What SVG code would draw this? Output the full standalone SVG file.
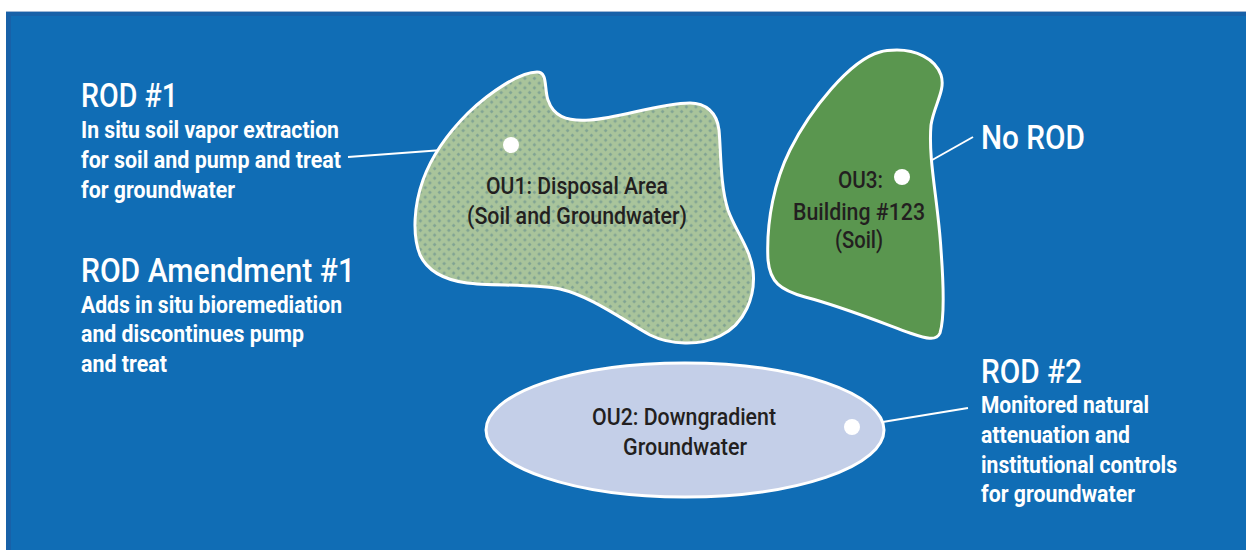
<svg xmlns="http://www.w3.org/2000/svg" width="1246" height="550" viewBox="0 0 1246 550">
<style>
.h{font-family:Roboto,'Liberation Sans',Arial,sans-serif;font-size:34px;fill:#ffffff;font-weight:500}
.b{font-family:Roboto,'Liberation Sans',Arial,sans-serif;font-size:23px;fill:#ffffff;font-weight:bold}
.n{font-family:Roboto,'Liberation Sans',Arial,sans-serif;font-size:23px;fill:#231f20;font-weight:500}
.shape{stroke:#ffffff;stroke-width:3;stroke-linejoin:round}
.lead{stroke:#ffffff;stroke-width:2;fill:none}
.dot{fill:#ffffff}
</style>
<defs>
<pattern id="dots" width="9.5" height="9.5" patternUnits="userSpaceOnUse">
<rect width="9.5" height="9.5" fill="#a9c49b"/>
<path d="M2.4,0.5 L4.3,2.4 L2.4,4.3 L0.5,2.4 Z M7.15,5.25 L9.05,7.15 L7.15,9.05 L5.25,7.15 Z" fill="#80a393"/>
</pattern>
</defs>
<rect x="0" y="0" width="1246" height="550" fill="#ffffff"/>
<rect x="6" y="11" width="1240" height="539" fill="#1861a8"/>
<rect x="11" y="16" width="1235" height="534" fill="#106db5"/>
<line x1="6" y1="11.5" x2="1246" y2="11.5" stroke="#9fb8d6" stroke-width="1"/>

<g id="connectors">
<line class="lead" x1="348" y1="157" x2="511" y2="145"/>
<line class="lead" x1="902" y1="177" x2="973" y2="137"/>
<line class="lead" x1="852" y1="427" x2="968" y2="408"/>
</g>

<g id="ou1">
<path class="shape" fill="url(#dots)" d="M537,72 C520,72 490,92 468,113 C450,131 432,155 423,180 C414,205 412,235 420,255 C428,272 445,280 467,283 C490,286 535,284 560,289 C590,296 620,318 650,335 C670,345 700,346 720,336 C745,324 756,296 753,270 C750,248 735,230 728,210 C720,185 721,150 719,130 C717,112 705,103 690,103 C660,103 620,118 590,120 C565,122 553,115 548,100 C544,88 548,72 537,72 Z"/>
<circle class="dot" cx="511" cy="145" r="8"/>
<text class="n" x="486" y="194" textLength="182" lengthAdjust="spacingAndGlyphs">OU1: Disposal Area</text>
<text class="n" x="467" y="224" textLength="220" lengthAdjust="spacingAndGlyphs">(Soil and Groundwater)</text>
</g>

<g id="ou3">
<path class="shape" fill="#5a964f" d="M897,50 C915,50 935,58 941,75 C946,90 934,105 931,125 C928,160 938,200 941,250 C944,290 944,320 940,333 C936,342 925,338 910,333 C880,322 840,306 805,297 C780,290 770,282 768,260 C766,220 775,180 790,150 C810,110 850,60 880,52 C886,50 892,50 897,50 Z"/>
<circle class="dot" cx="902" cy="177" r="8"/>
<text class="n" x="838" y="188" textLength="45" lengthAdjust="spacingAndGlyphs">OU3:</text>
<text class="n" x="793" y="220" textLength="132" lengthAdjust="spacingAndGlyphs">Building #123</text>
<text class="n" x="835" y="248" textLength="48" lengthAdjust="spacingAndGlyphs">(Soil)</text>
</g>

<g id="ou2">
<ellipse class="shape" fill="#c4cfe8" cx="685" cy="430" rx="199" ry="67"/>
<circle class="dot" cx="852" cy="427" r="8"/>
<text class="n" x="592" y="425" textLength="184" lengthAdjust="spacingAndGlyphs">OU2: Downgradient</text>
<text class="n" x="623" y="455" textLength="124" lengthAdjust="spacingAndGlyphs">Groundwater</text>
</g>

<g id="rod1">
<text class="h" x="81" y="107" textLength="97" lengthAdjust="spacingAndGlyphs">ROD #1</text>
<text class="b" x="81" y="138" textLength="258" lengthAdjust="spacingAndGlyphs">In situ soil vapor extraction</text>
<text class="b" x="81" y="168" textLength="260" lengthAdjust="spacingAndGlyphs">for soil and pump and treat</text>
<text class="b" x="81" y="198" textLength="154" lengthAdjust="spacingAndGlyphs">for groundwater</text>
</g>

<g id="rod-amendment1">
<text class="h" x="81" y="282" textLength="274" lengthAdjust="spacingAndGlyphs">ROD Amendment #1</text>
<text class="b" x="81" y="313" textLength="261" lengthAdjust="spacingAndGlyphs">Adds in situ bioremediation</text>
<text class="b" x="81" y="342" textLength="223" lengthAdjust="spacingAndGlyphs">and discontinues pump</text>
<text class="b" x="81" y="372" textLength="86" lengthAdjust="spacingAndGlyphs">and treat</text>
</g>

<g id="norod">
<text class="h" x="981" y="149" textLength="104" lengthAdjust="spacingAndGlyphs">No ROD</text>
</g>

<g id="rod2">
<text class="h" x="981" y="383" textLength="101" lengthAdjust="spacingAndGlyphs">ROD #2</text>
<text class="b" x="981" y="413" textLength="168" lengthAdjust="spacingAndGlyphs">Monitored natural</text>
<text class="b" x="981" y="443" textLength="149" lengthAdjust="spacingAndGlyphs">attenuation and</text>
<text class="b" x="981" y="473" textLength="196" lengthAdjust="spacingAndGlyphs">institutional controls</text>
<text class="b" x="981" y="502" textLength="154" lengthAdjust="spacingAndGlyphs">for groundwater</text>
</g>
</svg>
